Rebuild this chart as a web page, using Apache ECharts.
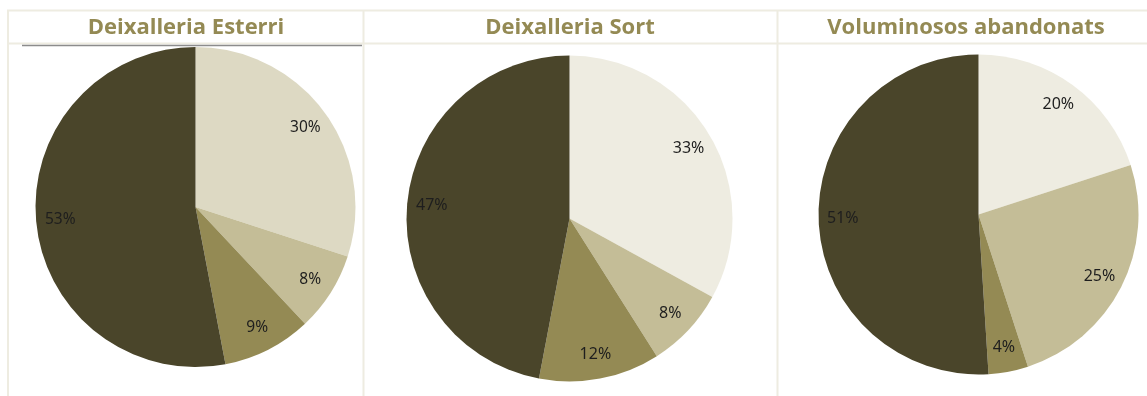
<!DOCTYPE html>
<html>
<head>
<meta charset="utf-8">
<style>
  html, body { margin: 0; padding: 0; background: #ffffff; }
  #chart { width: 1147px; height: 396px; }
</style>
<script src="https://cdn.jsdelivr.net/npm/echarts@6/dist/echarts.min.js"></script>
</head>
<body>
<div id="chart"></div>
<script>
// Waste composition shares at each facility (percent, clockwise from 12 o'clock)
const titles = ['Deixalleria Esterri', 'Deixalleria Sort', 'Voluminosos abandonats'];
const esterriValues = [30, 8, 9, 53];
const sortValues = [33, 8, 12, 47];
const voluminososValues = [20, 25, 4, 51];

// Slice colours per chart
const esterriColors = ['#DDD9C3', '#C4BD97', '#948A54', '#4A452A'];
const sortColors = ['#EEECE1', '#C4BD97', '#948A54', '#4A452A'];
const voluminososColors = ['#EEECE1', '#C4BD97', '#948A54', '#4A452A'];

const chart = echarts.init(document.getElementById('chart'), null, { renderer: 'canvas' });

const pies = [
  { values: esterriValues, colors: esterriColors, center: [195.5, 207], r: 160, titleX: 186, fontSize: 15.5 },
  { values: sortValues, colors: sortColors, center: [569.5, 218.5], r: 163, titleX: 570, fontSize: 16 },
  { values: voluminososValues, colors: voluminososColors, center: [978.5, 214.5], r: 160, titleX: 966, fontSize: 16 }
];

const series = [];
pies.forEach(function (p) {
  // filled slices
  series.push({
    type: 'pie',
    center: p.center,
    radius: [0, p.r],
    startAngle: 90,
    clockwise: true,
    silent: true,
    animation: false,
    label: { show: false },
    labelLine: { show: false },
    itemStyle: { borderWidth: 0 },
    data: p.values.map(function (v, i) {
      return { value: v, itemStyle: { color: p.colors[i] } };
    })
  });
  // transparent ring carrying the percentage labels near the rim
  series.push({
    type: 'pie',
    center: p.center,
    radius: [p.r * 0.66, p.r],
    startAngle: 90,
    clockwise: true,
    silent: true,
    animation: false,
    itemStyle: { color: 'rgba(0,0,0,0)', borderWidth: 0 },
    label: {
      show: true,
      position: 'inside',
      formatter: '{c}%',
      color: '#1E1E1E',
      fontFamily: 'Noto Sans',
      fontSize: p.fontSize
    },
    labelLine: { show: false },
    data: p.values.map(function (v) { return { value: v }; })
  });
});

const lineColor = '#EEECE1';
const graphics = [
  // table rules
  { type: 'line', shape: { x1: 7, y1: 10.5, x2: 1147, y2: 10.5 }, style: { stroke: lineColor, lineWidth: 2 } },
  { type: 'line', shape: { x1: 7, y1: 43.5, x2: 1147, y2: 43.5 }, style: { stroke: lineColor, lineWidth: 2 } },
  { type: 'line', shape: { x1: 8, y1: 10, x2: 8, y2: 396 }, style: { stroke: lineColor, lineWidth: 2 } },
  { type: 'line', shape: { x1: 363.5, y1: 10, x2: 363.5, y2: 396 }, style: { stroke: lineColor, lineWidth: 2 } },
  { type: 'line', shape: { x1: 777.5, y1: 10, x2: 777.5, y2: 396 }, style: { stroke: lineColor, lineWidth: 2 } },
  // underline below the first heading
  { type: 'line', shape: { x1: 22, y1: 45.5, x2: 362, y2: 45.5 }, style: { stroke: '#8C8C8C', lineWidth: 1.5 }, z: 10 }
];
pies.forEach(function (p, i) {
  graphics.push({
    type: 'text',
    x: p.titleX,
    y: 28,
    style: {
      text: titles[i],
      fill: '#948A54',
      font: 'bold 22px "Open Sans"',
      textAlign: 'center',
      textVerticalAlign: 'middle'
    }
  });
});

chart.setOption({
  backgroundColor: '#ffffff',
  animation: false,
  graphic: graphics,
  series: series
});
</script>
</body>
</html>
